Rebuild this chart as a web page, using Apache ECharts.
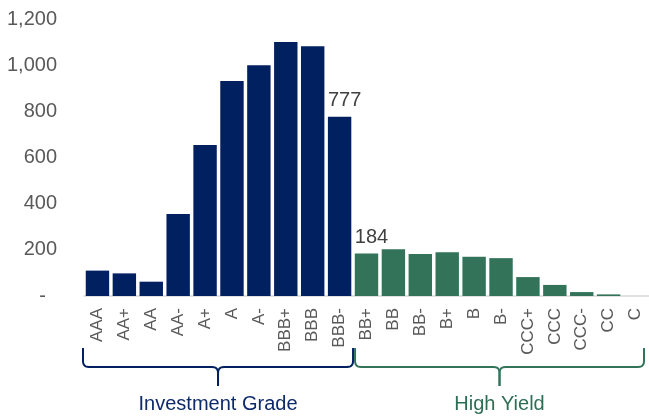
<!DOCTYPE html>
<html>
<head>
<meta charset="utf-8">
<script src="https://cdn.jsdelivr.net/npm/echarts@6/dist/echarts.min.js"></script>
<style>
  html, body { margin: 0; padding: 0; background: #fff; }
  #chart { width: 649px; height: 418px; }
</style>
</head>
<body>
<div id="chart"></div>
<script>
// Rating buckets and counts
const ratings = ['AAA','AA+','AA','AA-','A+','A','A-','BBB+','BBB','BBB-',
                 'BB+','BB','BB-','B+','B','B-','CCC+','CCC','CCC-','CC','C'];
const investmentGrade = [110, 98, 62, 355, 654, 931, 1000, 1100, 1082, 777];
const highYield = [184, 203, 182, 190, 170, 164, 82, 48, 17, 7, 0];
const yTicks = [0, 200, 400, 600, 800, 1000, 1200];
const labelled = { 'BBB-': true, 'BB+': true };

const NAVY = '#002060';
const GREEN = '#33735A';
const FONT = '"Liberation Sans", Arial, sans-serif';

const igCount = investmentGrade.length;
const seriesData = ratings.map((r, i) => {
  const v = i < igCount ? investmentGrade[i] : highYield[i - igCount];
  return {
    value: v,
    itemStyle: { color: i < igCount ? NAVY : GREEN },
    label: { show: !!labelled[r] }
  };
});

const chart = echarts.init(document.getElementById('chart'), null, { renderer: 'canvas' });

chart.setOption({
  animation: false,
  grid: { left: 84, right: -3, top: 19, bottom: 122, containLabel: false },
  xAxis: {
    type: 'category',
    data: ratings,
    axisLine: { lineStyle: { color: '#d9d9d9', width: 1.5 } },
    axisTick: { show: false },
    axisLabel: {
      rotate: 90,
      interval: 0,
      margin: 12,
      color: '#595959',
      fontFamily: FONT,
      fontSize: 17
    }
  },
  yAxis: {
    type: 'value',
    min: yTicks[0],
    max: yTicks[yTicks.length - 1],
    interval: 200,
    splitLine: { show: false },
    axisLine: { show: false },
    axisTick: { show: false },
    axisLabel: {
      margin: 27,
      color: '#595959',
      fontFamily: FONT,
      fontSize: 20,
      // accounting style: zero shown as a padded dash
      formatter: v => v === 0 ? '-  ' : v.toLocaleString('en-US')
    }
  },
  series: [{
    type: 'bar',
    data: seriesData,
    barCategoryGap: '13%',
    label: {
      position: 'top',
      distance: 6,
      offset: [5, 0],
      color: '#404040',
      fontFamily: FONT,
      fontSize: 20
    }
  }]
});

// Quadratic corner sampled into points, for the brace outline
function corner(p0, c, p1, out) {
  for (let k = 1; k <= 6; k++) {
    const t = k / 6, u = 1 - t;
    out.push([u * u * p0[0] + 2 * u * t * c[0] + t * t * p1[0],
              u * u * p0[1] + 2 * u * t * c[1] + t * t * p1[1]]);
  }
}

// Curly brace grouping one rating band below the axis labels
function brace(x1, x2, color) {
  const top = 348, mid = 367, tip = 386, r = 6;
  const xc = (x1 + x2) / 2;
  const left = [[x1, top], [x1, mid - r]];
  corner([x1, mid - r], [x1, mid], [x1 + r, mid], left);
  left.push([xc - r, mid]);
  corner([xc - r, mid], [xc, mid], [xc, mid + r], left);
  left.push([xc, tip]);
  const right = [[xc, tip], [xc, mid + r]];
  corner([xc, mid + r], [xc, mid], [xc + r, mid], right);
  right.push([x2 - r, mid]);
  corner([x2 - r, mid], [x2, mid], [x2, mid - r], right);
  right.push([x2, top]);
  const style = { fill: null, stroke: color, lineWidth: 2 };
  return [
    { type: 'polyline', shape: { points: left }, style },
    { type: 'polyline', shape: { points: right }, style }
  ];
}

const px = i => chart.convertToPixel({ xAxisIndex: 0 }, i);
const step = px(1) - px(0);
const igLeft = px(0) - step / 2 - 1;
const igRight = px(igCount - 1) + step / 2;
const hyLeft = px(igCount) - step / 2 + 2;
const hyRight = px(ratings.length - 1) + step / 2 - 5;

chart.setOption({
  graphic: [
    ...brace(igLeft, igRight, NAVY),
    ...brace(hyLeft, hyRight, GREEN),
    {
      type: 'text', x: (igLeft + igRight) / 2, y: 404,
      style: {
        text: 'Investment Grade', fill: '#0D2A6B',
        font: '20px ' + FONT,
        align: 'center', verticalAlign: 'middle'
      }
    },
    {
      type: 'text', x: (hyLeft + hyRight) / 2, y: 404,
      style: {
        text: 'High Yield', fill: '#2E6E55',
        font: '20px ' + FONT,
        align: 'center', verticalAlign: 'middle'
      }
    }
  ]
});
</script>
</body>
</html>
